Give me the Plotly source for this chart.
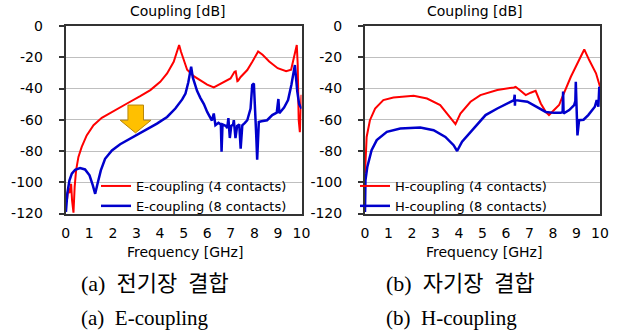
import plotly.graph_objects as go

# ---------------- data ----------------
e4_freq = [0.05, 0.11, 0.16, 0.23, 0.27, 0.33, 0.38, 0.44, 0.54, 0.68, 0.89, 1.18, 1.53, 2.03,
           2.6, 3.16, 3.59, 4.01, 4.3, 4.58, 4.75, 4.81, 4.89, 5.0, 5.15, 5.43, 5.71, 6.0, 6.28,
           6.57, 6.85, 6.99, 7.16, 7.21, 7.28, 7.31, 7.42, 7.7, 7.92, 8.16, 8.35, 8.63, 8.99,
           9.35, 9.56, 9.7, 9.8, 9.84, 9.88, 9.93, 9.97, 10.0]
e4_db = [-112, -104, -107, -101, -111.7, -119.5, -103, -92.4, -83.8, -77.4, -70, -63.5, -58.8, -54.3,
         -49.6, -44.9, -41, -35.7, -30.4, -22.9, -15.4, -12.2, -16.5, -21.5, -28, -32.1, -34.8, -37.5, -39.3,
         -36.8, -34.3, -33.6, -29.3, -29, -35.3, -35, -32.6, -28.2, -22.7, -16.3, -18.4, -22.7, -27,
         -29, -28, -19.6, -12.2, -25, -60, -68, -57, -44]

e8_freq = [0.01, 0.07, 0.16, 0.26, 0.4, 0.61, 0.82, 1.01, 1.15, 1.25, 1.35, 1.49, 1.67, 1.96, 2.31,
           2.74, 3.3, 3.87, 4.3, 4.65, 4.94, 5.08, 5.2, 5.26, 5.32, 5.39, 5.57, 5.71, 5.86, 6.0, 6.2,
           6.28, 6.35, 6.48, 6.58, 6.61, 6.65, 6.8, 6.85, 6.9, 6.96, 7.02, 7.1, 7.13, 7.2, 7.27,
           7.36, 7.42, 7.49, 7.6, 7.7, 7.84, 7.91, 7.98, 8.02, 8.08, 8.12, 8.19, 8.3, 8.54, 8.76,
           8.95, 9.02, 9.06, 9.26, 9.43, 9.57, 9.68, 9.72, 9.82, 9.9, 10.0]
e8_db = [-119, -107, -98.8, -94.5, -92, -90.9, -91.8, -95.6, -102, -107.4, -101, -92.4, -85, -79.6, -75.7,
         -72.1, -67.8, -62.5, -58.2, -52.8, -47, -43.2, -36, -31.8, -26, -32.9, -41.5, -46, -50, -55, -60.5,
         -56, -63.5, -62, -63, -80.5, -63, -64, -65.3, -58.9, -71.7, -64, -63, -60.3, -71.7, -64,
         -63, -78.5, -63.5, -62, -60.3, -52.8, -37.8, -36.8, -48, -70, -85.5, -61.4, -61, -60.3, -57,
         -55.5, -46.7, -55.8, -52.2, -47.4, -37.8, -26, -25, -41.9, -50, -53]

h4_freq = [0.0, 0.07, 0.21, 0.43, 0.78, 1.21, 2.07, 2.64, 3.2, 3.56, 3.85, 4.06, 4.49, 4.91, 5.63,
           6.34, 6.41, 6.62, 6.84, 7.05, 7.26, 7.48, 7.69, 7.83, 7.98, 8.26, 8.4, 8.76, 9.11, 9.33,
           9.54, 9.83, 10.0]
h4_db = [-94.4, -71, -60.3, -52.8, -47.4, -45.7, -44.7, -46.4, -50.6, -57, -62.8, -56, -48.5, -44.2, -41,
         -39.3, -38.9, -41.5, -44.2, -42.7, -41.5, -49.6, -54.9, -57, -54.9, -50.6, -45.3, -32.5, -21.8, -15,
         -21.8, -30.3, -38.9]

h8_freq = [0.0, 0.02, 0.1, 0.28, 0.5, 0.93, 1.5, 2.35, 2.92, 3.42, 3.77, 3.92, 4.13, 4.56, 5.13, 5.63,
           6.34, 6.37, 6.38, 6.39, 6.91, 7.34, 7.69, 8.05, 8.33, 8.41, 8.43, 8.45, 8.69, 8.9, 8.95,
           8.97, 9.02, 9.04, 9.11, 9.3, 9.5, 9.78, 9.86, 9.93, 9.97, 10.0]
h8_db = [-119, -98.7, -90, -79.5, -73, -67.7, -65.6, -65, -66.7, -71, -76.3, -80, -74, -66.7, -57, -52.8,
         -47.4, -44, -51, -47.4, -48.5, -52, -55, -55.6, -55.6, -55, -42, -56, -53.8, -50.6, -48,
         -35.7, -62, -70, -60.3, -60, -57, -51.7, -47.4, -51.7, -38.9, -40]

y_ticks = [0, -20, -40, -60, -80, -100, -120]
y_tick_text = ["0", "-20", "-40", "-60", "-80", "-100", "-120"]
x_ticks = list(range(0, 11))

RED = "#FF0000"
BLUE = "#0000CC"
FONT = "DejaVu Sans"

fig = go.Figure()
fig.add_trace(go.Scatter(x=e4_freq, y=e4_db, mode="lines", name="E-coupling (4 contacts)",
                         line=dict(color=RED, width=2), xaxis="x", yaxis="y", legend="legend"))
fig.add_trace(go.Scatter(x=e8_freq, y=e8_db, mode="lines", name="E-coupling (8 contacts)",
                         line=dict(color=BLUE, width=2.5), xaxis="x", yaxis="y", legend="legend"))
fig.add_trace(go.Scatter(x=h4_freq, y=h4_db, mode="lines", name="H-coupling (4 contacts)",
                         line=dict(color=RED, width=2), xaxis="x2", yaxis="y2", legend="legend2"))
fig.add_trace(go.Scatter(x=h8_freq, y=h8_db, mode="lines", name="H-coupling (8 contacts)",
                         line=dict(color=BLUE, width=2.5), xaxis="x2", yaxis="y2", legend="legend2"))

W, H = 620, 335
def px_x(p):
    return p / W
def px_y(p):
    return 1 - p / H

common_x = dict(range=[0, 10], tickvals=x_ticks, showgrid=False, zeroline=False,
                showline=True, mirror=True, linecolor="#333333", linewidth=1.5,
                ticks="", tickfont=dict(family=FONT, size=14, color="#000000"),
                ticklabelstandoff=6, fixedrange=True, automargin=False)
common_y = dict(range=[-120, 0], tickvals=y_ticks, ticktext=y_tick_text, showgrid=True,
                gridcolor="#BFBFBF", gridwidth=1, zeroline=False,
                showline=True, mirror=True, linecolor="#333333", linewidth=2,
                ticks="outside", ticklen=5, tickcolor="#333333", tickwidth=1.5,
                tickfont=dict(family=FONT, size=14, color="#000000"),
                ticklabelstandoff=13, fixedrange=True, automargin=False)

ydom = [px_y(213.5), px_y(26)]
fig.update_layout(
    width=W, height=H, margin=dict(l=0, r=0, t=0, b=0, autoexpand=False),
    paper_bgcolor="white", plot_bgcolor="white",
    xaxis=dict(domain=[px_x(65.7), px_x(301.5)], anchor="y", **common_x),
    yaxis=dict(domain=ydom, anchor="x", **common_y),
    xaxis2=dict(domain=[px_x(365), px_x(600)], anchor="y2", **common_x),
    yaxis2=dict(domain=ydom, anchor="x2", **common_y),
    legend=dict(x=px_x(96), y=px_y(171), xanchor="left", yanchor="top",
                bgcolor="rgba(0,0,0,0)", font=dict(family=FONT, size=13, color="#000000"),
                tracegroupgap=0, itemwidth=30),
    legend2=dict(x=px_x(355), y=px_y(171), xanchor="left", yanchor="top",
                 bgcolor="rgba(0,0,0,0)", font=dict(family=FONT, size=13, color="#000000"),
                 tracegroupgap=0, itemwidth=30),
    showlegend=True,
)

annots = [
    dict(text="Coupling [dB]", x=px_x(178), y=px_y(11)),
    dict(text="Coupling [dB]", x=px_x(475), y=px_y(11)),
    dict(text="Frequency [GHz]", x=px_x(185), y=px_y(252)),
    dict(text="Frequency [GHz]", x=px_x(484), y=px_y(252)),
]
for a in annots:
    fig.add_annotation(xref="paper", yref="paper", showarrow=False, xanchor="center",
                       yanchor="middle", font=dict(family=FONT, size=14, color="#000000"), **a)

CAP_FONT = "Liberation Serif, Noto Sans CJK KR, serif"
captions = [
    dict(text="(a)  전기장  결합", x=px_x(79), y=px_y(283), font=dict(family=CAP_FONT, size=22, color="#000000")),
    dict(text="(a)  E-coupling", x=px_x(79), y=px_y(318), font=dict(family=CAP_FONT, size=21, color="#000000")),
    dict(text="(b)  자기장  결합", x=px_x(384), y=px_y(283), font=dict(family=CAP_FONT, size=22, color="#000000")),
    dict(text="(b)  H-coupling", x=px_x(384), y=px_y(318), font=dict(family=CAP_FONT, size=21, color="#000000")),
]
for c in captions:
    fig.add_annotation(xref="paper", yref="paper", showarrow=False, xanchor="left",
                       yanchor="middle", **c)

# decorative orange arrow (downward)
fig.add_shape(type="path", xref="x", yref="y",
              path="M 2.64,-50.6 L 3.30,-50.6 L 3.30,-60.3 L 3.62,-60.3 L 2.96,-68.4 L 2.31,-60.3 L 2.64,-60.3 Z",
              fillcolor="#FFC000", line=dict(color="#B8860B", width=1), layer="above")

fig.write_html("out.html")
